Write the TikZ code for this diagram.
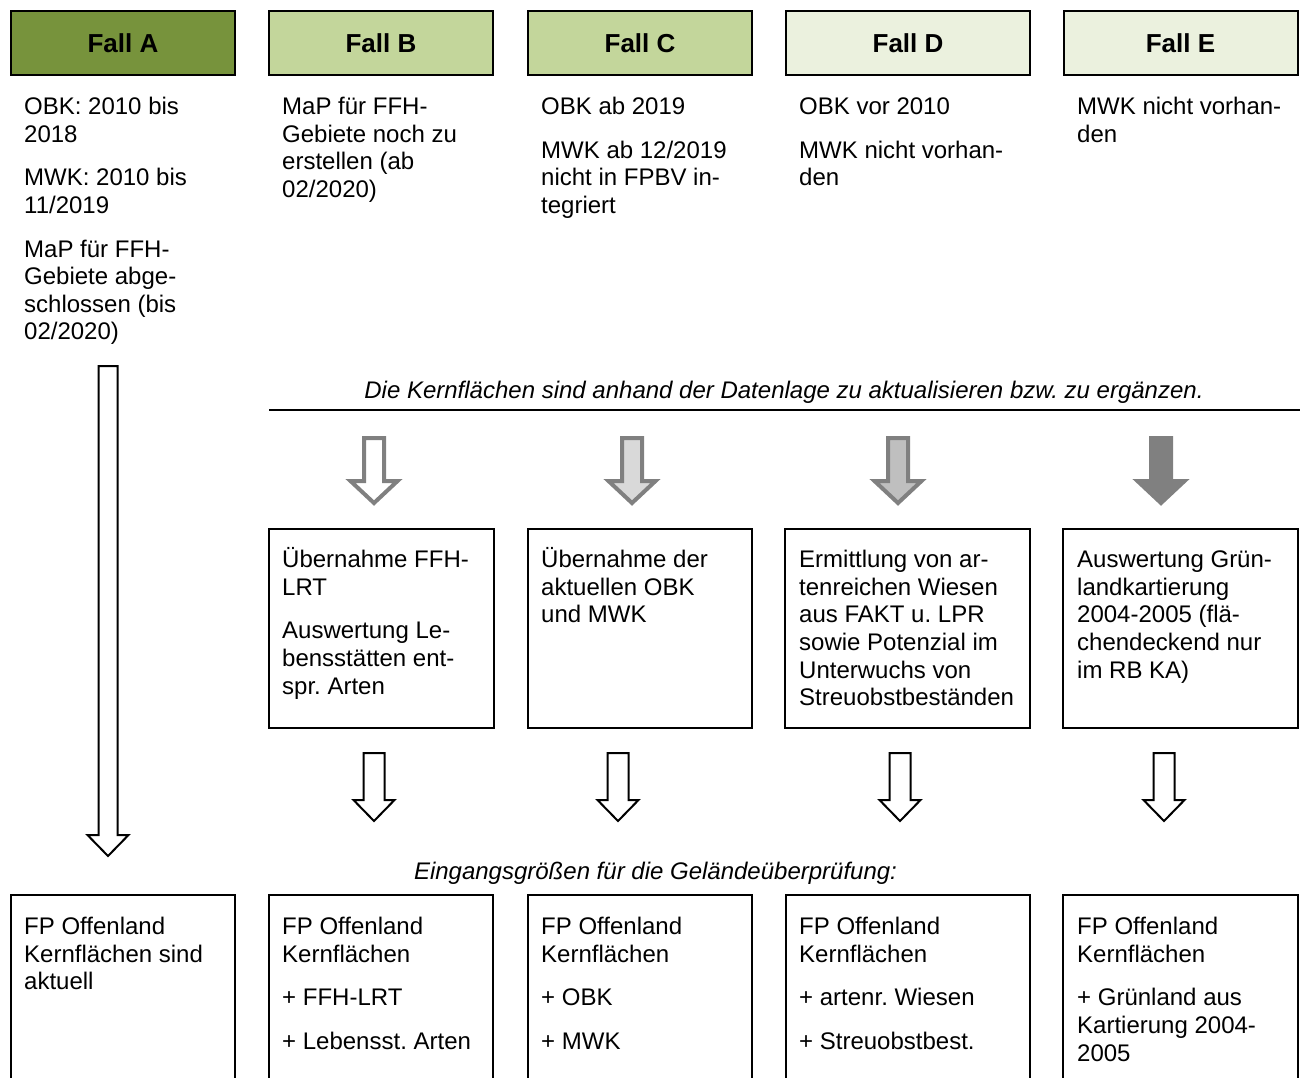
\documentclass[tikz,border=0pt]{standalone}
\usepackage{fontspec}
\setmainfont{Liberation Sans}
\usetikzlibrary{calc}
\frenchspacing
\definecolor{fallA}{HTML}{77933C}
\definecolor{fallBC}{HTML}{C3D69B}
\definecolor{fallDE}{HTML}{EBF1DE}
\definecolor{arrgray}{HTML}{808080}
\definecolor{fillC}{HTML}{D9D9D9}
\definecolor{fillD}{HTML}{BFBFBF}
\newcommand\fst{\rule{0pt}{22pt}}
\newcommand\blkarrow[6]{%
  \draw[#1] let \p1=(#2), \p2=(#3) in
  (\x1-#4pt,\y1) -- (\x1+#4pt,\y1) -- (\x1+#4pt,\y2+#6pt) -- (\x1+#5pt,\y2+#6pt)
  -- (\x2,\y2) -- (\x1-#5pt,\y2+#6pt) -- (\x1-#4pt,\y2+#6pt) -- cycle;}
\tikzset{
  txt/.style={anchor=north west, inner sep=0pt, align=left, font=\fontsize{24}{27.6}\selectfont\frenchspacing},
  itxt/.style={anchor=base, inner sep=0pt, font=\fontsize{24}{27.6}\selectfont\itshape\frenchspacing},
  hdr/.style={draw, line width=2pt, minimum height=64pt, inner sep=0pt, font=\fontsize{26}{30}\selectfont\bfseries},
  boxm/.style={draw, line width=2pt, inner sep=0pt, minimum height=199pt},
  boxb/.style={draw, line width=2pt, inner sep=0pt, minimum height=200pt},
  blackarr/.style={draw=black, fill=white, line width=2pt, miter limit=10},
  grayarr/.style={draw=arrgray, line width=4pt, miter limit=10},
}
\begin{document}
\begin{tikzpicture}[x=1pt,y=-1pt]
\clip (0,0) rectangle (1300,1077);
\fill[white] (0,0) rectangle (1300,1077);
% headers
\node[hdr, fill=fallA, minimum width=224pt] (hA) at (123,43) {Fall A};
\node[hdr, fill=fallBC, minimum width=224pt] (hB) at (381,43) {Fall B};
\node[hdr, fill=fallBC, minimum width=224pt] (hC) at (640,43) {Fall C};
\node[hdr, fill=fallDE, minimum width=244pt] (hD) at (908,43) {Fall D};
\node[hdr, fill=fallDE, minimum width=234pt] (hE) at (1180.5,43) {Fall E};
% row 1 texts
\node[txt] (tA) at (24,92.5) {\fst OBK: 2010 bis\\2018\\[16pt]MWK: 2010 bis\\11/2019\\[16pt]MaP für FFH-\\Gebiete abge-\\schlossen (bis\\02/2020)};
\node[txt] (tB) at (282,92.5) {\fst MaP für FFH-\\Gebiete noch zu\\erstellen (ab\\02/2020)};
\node[txt] (tC) at (541,92.5) {\fst OBK ab 2019\\[16pt]MWK ab 12/2019\\nicht in FPBV in-\\tegriert};
\node[txt] (tD) at (799,92.5) {\fst OBK vor 2010\\[16pt]MWK nicht vorhan-\\den};
\node[txt] (tE) at (1077,92.5) {\fst MWK nicht vorhan-\\den};
% italic note and line
\node[itxt] (note1) at (784,398.5) {Die Kernflächen sind anhand der Datenlage zu aktualisieren bzw. zu ergänzen.};
\coordinate (lineL) at (269,410);
\coordinate (lineR) at (1300,410);
\draw[line width=1.5pt] (lineL) -- (lineR);
% middle boxes
\node[boxm, minimum width=225pt] (mB) at (381.5,628.5) {};
\node[boxm, minimum width=224pt] (mC) at (640,628.5) {};
\node[boxm, minimum width=245pt] (mD) at (907.5,628.5) {};
\node[boxm, minimum width=235pt] (mE) at (1180.5,628.5) {};
\node[txt] (mtB) at (282,545.5) {\fst Übernahme FFH-\\LRT\\[16pt]Auswertung Le-\\bensstätten ent-\\spr. Arten};
\node[txt] (mtC) at (541,545.5) {\fst Übernahme der\\aktuellen OBK\\und MWK};
\node[txt] (mtD) at (799,545.5) {\fst Ermittlung von ar-\\tenreichen Wiesen\\aus FAKT u. LPR\\sowie Potenzial im\\Unterwuchs von\\Streuobstbeständen};
\node[txt] (mtE) at (1077,545.5) {\fst Auswertung Grün-\\landkartierung\\2004-2005 (flä-\\chendeckend nur\\im RB KA)};
% second note
\node[itxt] (note2) at (655.5,879.5) {Eingangsgrößen für die Geländeüberprüfung:};
% bottom boxes
\node[boxb, minimum width=224pt] (bA) at (123,995) {};
\node[boxb, minimum width=224pt] (bB) at (381,995) {};
\node[boxb, minimum width=224pt] (bC) at (640,995) {};
\node[boxb, minimum width=244pt] (bD) at (908,995) {};
\node[boxb, minimum width=235pt] (bE) at (1180.5,995) {};
\node[txt] (btA) at (24,912.5) {\fst FP Offenland\\Kernflächen sind\\aktuell};
\node[txt] (btB) at (282,912.5) {\fst FP Offenland\\Kernflächen\\[16pt]+ FFH-LRT\\[16pt]+ Lebensst. Arten};
\node[txt] (btC) at (541,912.5) {\fst FP Offenland\\Kernflächen\\[16pt]+ OBK\\[16pt]+ MWK};
\node[txt] (btD) at (799,912.5) {\fst FP Offenland\\Kernflächen\\[16pt]+ artenr. Wiesen\\[16pt]+ Streuobstbest.};
\node[txt] (btE) at (1077,912.5) {\fst FP Offenland\\Kernflächen\\[16pt]+ Grünland aus\\Kartierung 2004-\\2005};
% arrow coordinates
\coordinate (aAs) at (108,366);  \coordinate (aAt) at (108,856);
\coordinate (g1s) at (374,438);  \coordinate (g1t) at (374,503);
\coordinate (g2s) at (632,438);  \coordinate (g2t) at (632,503);
\coordinate (g3s) at (898,438);  \coordinate (g3t) at (898,503);
\coordinate (g4s) at (1161,438); \coordinate (g4t) at (1161,503);
\coordinate (k1s) at (374,753);  \coordinate (k1t) at (374,821);
\coordinate (k2s) at (618,753);  \coordinate (k2t) at (618,821);
\coordinate (k3s) at (900,753);  \coordinate (k3t) at (900,821);
\coordinate (k4s) at (1164,753); \coordinate (k4t) at (1164,821);
% arrows
\blkarrow{blackarr}{aAs}{aAt}{9.5}{20.5}{21}
\blkarrow{grayarr, fill=white}{g1s}{g1t}{10}{23.5}{22}
\blkarrow{grayarr, fill=fillC}{g2s}{g2t}{10}{23.5}{22}
\blkarrow{grayarr, fill=fillD}{g3s}{g3t}{10}{23.5}{22}
\blkarrow{grayarr, fill=arrgray}{g4s}{g4t}{10}{23.5}{22}
\blkarrow{blackarr}{k1s}{k1t}{10.5}{20.5}{21}
\blkarrow{blackarr}{k2s}{k2t}{10.5}{20.5}{21}
\blkarrow{blackarr}{k3s}{k3t}{10.5}{20.5}{21}
\blkarrow{blackarr}{k4s}{k4t}{10.5}{20.5}{21}
\end{tikzpicture}
\end{document}
